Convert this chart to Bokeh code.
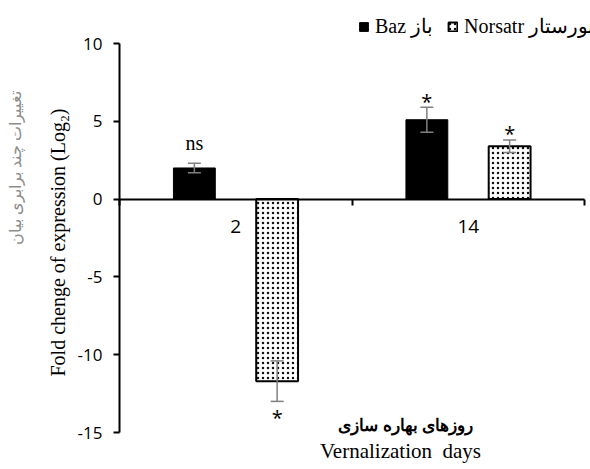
from math import pi
from bokeh.plotting import figure
from bokeh.models import (ColumnDataSource, Range1d, LinearAxis, FixedTicker,
                          Whisker, TeeHead, Legend, LegendItem, Label)
from bokeh.embed import file_html
from bokeh.resources import INLINE

# ---- data ----
days = ["2", "14"]
baz = [2.0, 5.1]
baz_err = [0.3, 0.8]
norsatr = [-11.7, 3.4]
norsatr_err = [1.3, 0.4]
baz_marks = ["ns", "*"]
norsatr_marks = ["*", "*"]
y_ticks = [-15, -10, -5, 0, 5, 10]

# ---- layout / style ----
W, H = 590, 469
AX_L, AX_R, AX_T, AX_B = 119, 584, 43, 432      # axis box in pixels
Y_MIN, Y_MAX = y_ticks[0], y_ticks[-1]
N = len(days)
SERIF = "Liberation Serif"
SANS = "Open Sans"
OFF = 0.178
BW = 0.18

xppu = (AX_R - AX_L) / N
yppu = (AX_B - AX_T) / (Y_MAX - Y_MIN)
x_range = Range1d(-AX_L / xppu, N + (W - AX_R) / xppu)
y_range = Range1d(Y_MIN - (H - AX_B) / yppu, Y_MAX + AX_T / yppu)

xc = [i + 0.5 for i in range(N)]


def make_source(vals, errs, marks, shift):
    mark_y, mark_off, mark_font = [], [], []
    for v, e, m in zip(vals, errs, marks):
        if v >= 0:
            mark_y.append(v + e)
            mark_off.append(-20 if m == "ns" else -6)
        else:
            mark_y.append(v - e)
            mark_off.append(16)
        mark_font.append(SERIF if m == "ns" else SANS)
    return ColumnDataSource(dict(
        x=[x + shift for x in xc], top=vals,
        upper=[v + e for v, e in zip(vals, errs)],
        lower=[v - e for v, e in zip(vals, errs)],
        mark=marks, mark_y=mark_y, mark_off=mark_off, mark_font=mark_font))


s_baz = make_source(baz, baz_err, baz_marks, -OFF)
s_nor = make_source(norsatr, norsatr_err, norsatr_marks, OFF)

p = figure(width=W, height=H, x_range=x_range, y_range=y_range,
           output_backend="svg", toolbar_location=None,
           x_axis_location=None, y_axis_location=None, min_border=0)
p.outline_line_color = None
p.xgrid.visible = False
p.ygrid.visible = False

# y axis crossing at x=0
ya = LinearAxis(fixed_location=0, bounds=(Y_MIN, Y_MAX),
                ticker=FixedTicker(ticks=y_ticks),
                major_label_overrides={t: str(t) for t in y_ticks},
                minor_tick_line_color=None, major_tick_out=6, major_tick_in=0,
                axis_line_width=2, major_tick_line_width=2,
                major_label_text_font=SANS, major_label_text_font_size="17px",
                major_label_text_color="black", major_label_standoff=11)
p.add_layout(ya, "left")

# x axis crossing at y=0: boundary ticks + category labels
xa = LinearAxis(fixed_location=0, bounds=(0, N),
                ticker=FixedTicker(ticks=xc, minor_ticks=list(range(N + 1))),
                major_label_overrides=dict(zip(xc, days)),
                major_tick_line_color=None, major_tick_out=0, major_tick_in=0,
                minor_tick_out=6, minor_tick_in=0, minor_tick_line_width=2,
                axis_line_width=2, major_label_standoff=15,
                major_label_text_font=SANS, major_label_text_font_size="19px",
                major_label_text_color="black")
p.add_layout(xa, "below")

# bars
r_baz = p.vbar(x="x", top="top", bottom=0, width=BW, source=s_baz,
               fill_color="black", line_color="black", line_width=1)
r_nor = p.vbar(x="x", top="top", bottom=0, width=BW, source=s_nor,
               fill_color="white", line_color="black", line_width=2,
               hatch_pattern="dot", hatch_color="#111111", hatch_scale=5,
               hatch_weight=4.5)

# error bars
for s in (s_baz, s_nor):
    w = Whisker(source=s, base="x", upper="upper", lower="lower",
                line_color="#808080", line_width=1.5, level="annotation",
                upper_head=TeeHead(size=13, line_color="#808080", line_width=1.5),
                lower_head=TeeHead(size=13, line_color="#808080", line_width=1.5))
    p.add_layout(w)

# significance marks
for s in (s_baz, s_nor):
    p.text(x="x", y="mark_y", text="mark", source=s, y_offset="mark_off",
           text_align="center", text_baseline="middle", text_font="mark_font",
           text_font_size="20px", text_color="black")

# legend
legend = Legend(items=[LegendItem(label="Baz \u0628\u0627\u0632", renderers=[r_baz]),
                       LegendItem(label="Norsatr \u0646\u0648\u0631\u0633\u062a\u0627\u0631",
                                  renderers=[r_nor])],
                orientation="horizontal", location=(358, 431), padding=0, margin=0,
                spacing=14, label_standoff=6, glyph_width=11, glyph_height=11,
                border_line_alpha=0, background_fill_alpha=0,
                label_text_font=SERIF, label_text_font_size="20px",
                label_text_color="black")
p.add_layout(legend)

# titles (screen units, from the bottom-left of the canvas)
p.add_layout(Label(x=57, y=H - 242, x_units="screen", y_units="screen",
                   text="Fold chenge of expression (Log\u2082)", angle=pi / 2,
                   text_align="center", text_baseline="middle", text_font=SERIF,
                   text_font_size="20px", text_color="black"))
p.add_layout(Label(x=15, y=H - 167, x_units="screen", y_units="screen",
                   text="\u062a\u063a\u06cc\u06cc\u0631\u0627\u062a \u0686\u0646\u062f \u0628\u0631\u0627\u0628\u0631\u06cc \u0628\u06cc\u0627\u0646",
                   angle=pi / 2, text_align="center", text_baseline="middle",
                   text_font=SERIF, text_font_size="16px", text_color="#8c8c8c"))
p.add_layout(Label(x=405, y=H - 425, x_units="screen", y_units="screen",
                   text="\u0631\u0648\u0632\u0647\u0627\u06cc \u0628\u0647\u0627\u0631\u0647 \u0633\u0627\u0632\u06cc",
                   text_align="center", text_baseline="middle", text_font=SERIF,
                   text_font_size="17px", text_font_style="bold", text_color="black"))
p.add_layout(Label(x=400, y=H - 450, x_units="screen", y_units="screen",
                   text="Vernalization\u00a0 days", text_align="center",
                   text_baseline="middle", text_font=SERIF, text_font_size="21px",
                   text_color="black"))

open("out.html", "w").write(file_html(p, INLINE))
